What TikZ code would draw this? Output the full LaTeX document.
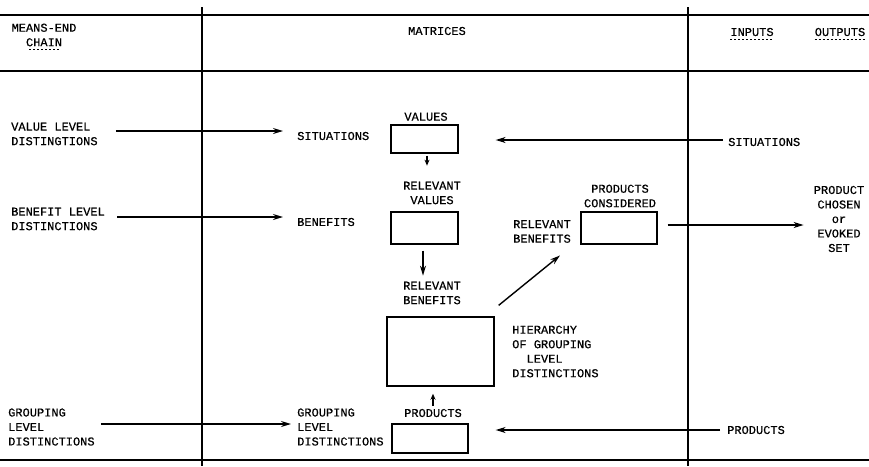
\documentclass[tikz,border=0pt]{standalone}
\usepackage{fontspec}
\newfontfamily\twfont[FakeBold=0.5]{Liberation Mono}
\usetikzlibrary{arrows.meta}
\begin{document}
\begin{tikzpicture}[x=1pt,y=-1pt,
  lbl/.style={font=\twfont\fontsize{12}{14.5}\selectfont,inner sep=0pt,align=left},
  lblc/.style={lbl,align=center},
  rule/.style={line width=1.4pt},
  box/.style={draw,line width=1.3pt,inner sep=0pt},
  arr/.style={line width=1.4pt,-{Stealth[length=10pt,width=6pt]}},
  sarr/.style={line width=1.3pt,-{Stealth[length=6pt,width=5pt]}},
  uline/.style={line width=0.6pt,dash pattern=on 2pt off 2pt}]
\useasboundingbox (0,0) rectangle (869,466);
% frame lines
\draw[rule] (0,15) -- (869,15);
\draw[rule] (0,71) -- (869,71);
\draw[rule] (0,460) -- (869,460);
\draw[line width=1.1pt] (202,7) -- (202,466);
\draw[line width=1.1pt] (688,7) -- (688,466);
% header
\node[lblc] (mec) at (44,35) {MEANS-END\\CHAIN};
\node[lblc] (mat) at (437,31) {MATRICES};
\node[lblc] (inp) at (752,32) {INPUTS};
\node[lblc] (outp) at (840,32) {OUTPUTS};
\draw[uline] ([xshift=-15pt,yshift=-3pt]mec.south) -- ([xshift=15pt,yshift=-3pt]mec.south);
\draw[uline] ([yshift=-3pt]inp.south west) -- ([yshift=-3pt]inp.south east);
\draw[uline] ([yshift=-3pt]outp.south west) -- ([yshift=-3pt]outp.south east);
% left column
\node[lbl,anchor=west] (vld) at (11,134) {VALUE LEVEL\\DISTINGTIONS};
\node[lbl,anchor=west] (bld) at (11,219) {BENEFIT LEVEL\\DISTINCTIONS};
\node[lbl,anchor=west] (gld) at (8,427) {GROUPING\\LEVEL\\DISTINCTIONS};
% matrices column labels
\node[lbl,anchor=west] (sit1) at (297,136) {SITUATIONS};
\node[lbl,anchor=west] (ben) at (297,222) {BENEFITS};
\node[lbl,anchor=west] (gld2) at (297,427) {GROUPING\\LEVEL\\DISTINCTIONS};
% boxes
\node[box,minimum width=67pt,minimum height=28pt] (vbox) at (424.5,139) {};
\node[lblc,anchor=south] (vlab) at (426,121) {VALUES};
\node[box,minimum width=67pt,minimum height=32pt] (rvbox) at (424.5,228) {};
\node[lblc] (rvlab) at (432,193) {RELEVANT\\VALUES};
\node[lblc] (rblab) at (432,293) {RELEVANT\\BENEFITS};
\node[box,minimum width=107pt,minimum height=69pt] (hbox) at (440.5,351.5) {};
\node[lbl,anchor=west] (hier) at (512,351.5) {HIERARCHY\\OF GROUPING\\\hspace*{14.4pt}LEVEL\\DISTINCTIONS};
\node[lblc] (prlab) at (433,413) {PRODUCTS};
\node[box,minimum width=76pt,minimum height=29pt] (pbox) at (430,438.5) {};
\node[lblc] (pclab) at (620,196) {PRODUCTS\\CONSIDERED};
\node[box,minimum width=76pt,minimum height=32pt] (pcbox) at (619,228) {};
\node[lbl,anchor=west] (rb2) at (513,231.5) {RELEVANT\\BENEFITS};
\node[lblc] (chosen) at (839,219) {PRODUCT\\CHOSEN\\or\\EVOKED\\SET};
% inputs
\node[lbl,anchor=west] (sit2) at (728,142) {SITUATIONS};
\node[lbl,anchor=west] (prod2) at (727,430) {PRODUCTS};
% connectors
\draw[arr] ([xshift=18pt,yshift=3pt]vld.east) -- ([xshift=-14pt,yshift=5pt]sit1.west);
\draw[arr] ([xshift=12pt,yshift=2pt]bld.east) -- ([xshift=-14pt,yshift=5pt]ben.west);
\draw[arr] ([xshift=6pt,yshift=3pt]gld.east) -- ([xshift=-6pt,yshift=3pt]gld2.west);
\draw[arr] ([xshift=-5pt,yshift=2pt]sit2.west) -- ([xshift=37pt,yshift=-1pt]vbox.east);
\draw[arr] ([xshift=-7pt]prod2.west) -- ([xshift=27pt,yshift=8.5pt]pbox.east);
\draw[sarr] ([xshift=2.5pt,yshift=-2pt]vbox.south) -- ++(0,10);
\draw[arr] ([xshift=-1.5pt,yshift=-6pt]rvbox.south) -- ++(0,25);
\draw[sarr] ([yshift=3pt]prlab.north) -- ++(0,-12);
\draw[arr] ([xshift=4pt,yshift=11pt]hbox.north east) -- ([xshift=18pt,yshift=-12.5pt]rb2.south);
\draw[arr] ([xshift=10pt,yshift=3pt]pcbox.east) -- ([xshift=-10pt,yshift=-6pt]chosen.west);
\end{tikzpicture}
\end{document}
